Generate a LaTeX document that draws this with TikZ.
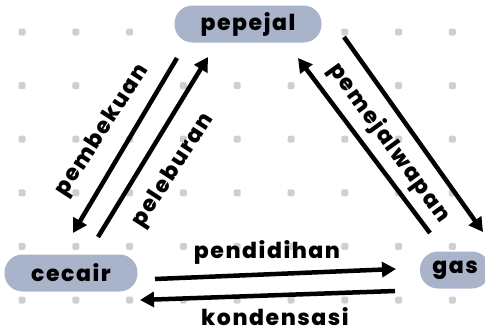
\documentclass[tikz,border=0pt]{standalone}
\usepackage{fontspec}
\setmainfont{Poppins}
\newfontfamily\lblfont{Poppins}[LetterSpace=7, BoldFont={Poppins ExtraBold}]
\usetikzlibrary{arrows.meta}
\definecolor{pill}{HTML}{A9B3C9}
\definecolor{dotgray}{HTML}{CFCFCF}
\tikzset{
  state/.style={fill=pill, rounded corners=18pt, minimum height=37pt, inner sep=0pt,
    font=\lblfont\bfseries\fontsize{22}{22}\selectfont},
  proc/.style={font=\lblfont\bfseries\fontsize{22}{22}\selectfont, inner sep=0pt},
  flow/.style={line width=4.5pt, -{Triangle[length=14pt,width=15pt]}},
  griddot/.style={fill=dotgray, rounded corners=2pt}
}
\begin{document}
\begin{tikzpicture}[x=1pt,y=-1pt]
\useasboundingbox (0,0) rectangle (485,333);
% background dot grid
\foreach \i in {0,...,8}{
  \foreach \j in {0,...,5}{
    \fill[griddot] ({22+53.8*\i-3.5},{32+53.6*\j-3.5}) rectangle ++(7,7);
  }
}
% states
\node[state, minimum width=147pt] (pepejal) at (248,24) {pepejal};
\node[state, minimum width=133pt] (cecair) at (71,273) {cecair};
\node[state, minimum width=70pt] (gas) at (455,270) {gas};
% arrow end points
\coordinate (pbA) at (177,58);  \coordinate (pbB) at (73,233);
\coordinate (plA) at (98,237);  \coordinate (plB) at (208,57);
\coordinate (pwA) at (430,233); \coordinate (pwB) at (298,58);
\coordinate (skA) at (344,37);  \coordinate (skB) at (483,232);
\coordinate (pdA) at (155,279); \coordinate (pdB) at (396,269);
\coordinate (kdA) at (395,291); \coordinate (kdB) at (140,300);
% transitions
\draw[flow] (pbA) -- (pbB);
\draw[flow] (plA) -- (plB);
\draw[flow] (pwA) -- (pwB);
\draw[flow] (skA) -- (skB);
\draw[flow] (pdA) -- (pdB);
\draw[flow] (kdA) -- (kdB);
% labels
\node[proc, rotate=57] (lpb) at (103,131) {pembekuan};
\node[proc, rotate=57] (lpl) at (174,171) {peleburan};
\node[proc, rotate=-54] (lpw) at (389,143) {pemejalwapan};
\node[proc] (lpd) at (267,252) {pendidihan};
\node[proc] (lkd) at (275,317) {kondensasi};
\end{tikzpicture}
\end{document}
